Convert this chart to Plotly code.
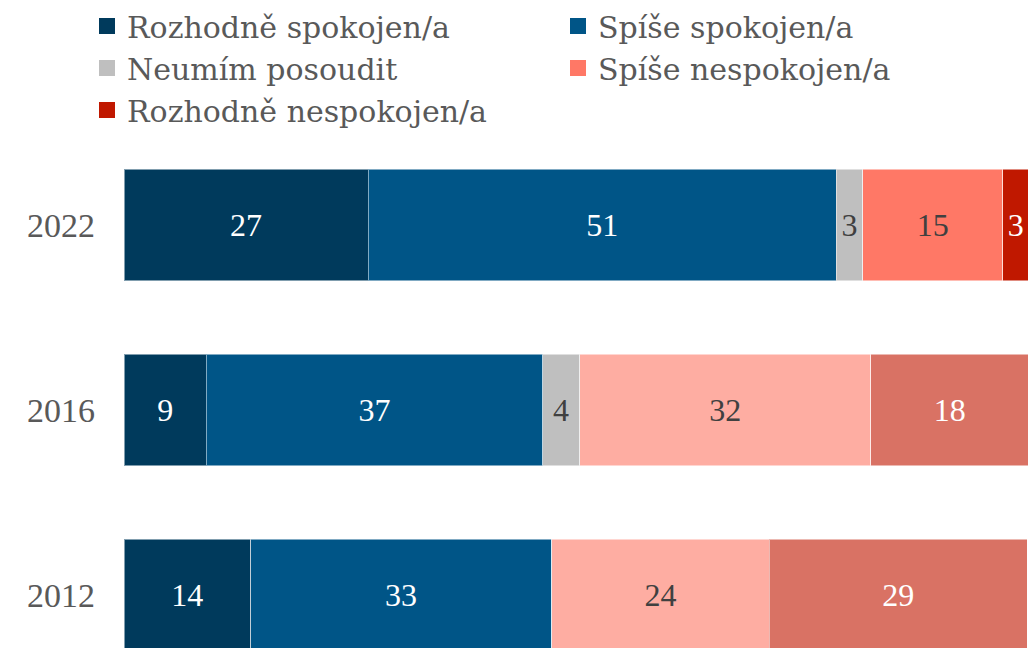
import plotly.graph_objects as go

years = ["2022", "2016", "2012"]
categories = ["Rozhodně spokojen/a", "Spíše spokojen/a", "Neumím posoudit",
              "Spíše nespokojen/a", "Rozhodně nespokojen/a"]

# segment shares and the printed labels
rozhodne_spokojen = [27.0, 9.1, 14.0]
spise_spokojen = [51.8, 37.2, 33.3]
neumim = [2.9, 4.1, 0.0]
spise_nespokojen = [15.5, 32.2, 24.1]
rozhodne_nespokojen = [2.9, 17.5, 28.5]

labels_rs = ["27", "9", "14"]
labels_ss = ["51", "37", "33"]
labels_nn = ["3", "4", ""]
labels_sn = ["15", "32", "24"]
labels_rn = ["3", "18", "29"]

values = [rozhodne_spokojen, spise_spokojen, neumim, spise_nespokojen, rozhodne_nespokojen]
labels = [labels_rs, labels_ss, labels_nn, labels_sn, labels_rn]

colors = [
    ["#003A5C", "#003A5C", "#003A5C"],
    ["#005587", "#005587", "#005587"],
    ["#BFBFBF", "#BFBFBF", "#BFBFBF"],
    ["#FF7866", "#FEADA2", "#FEADA2"],
    ["#C01800", "#D97264", "#D97264"],
]
text_colors = [
    ["white"] * 3,
    ["white"] * 3,
    ["#404040"] * 3,
    ["#404040"] * 3,
    ["white"] * 3,
]
legend_colors = ["#003A5C", "#005587", "#BFBFBF", "#FF7866", "#C01800"]
legend_ids = ["legend", "legend2", "legend", "legend2", "legend"]

TEXT_FONT = "DejaVu Serif"
NUM_FONT = "Liberation Serif"
fig = go.Figure()
for i, name in enumerate(categories):
    fig.add_trace(go.Bar(
        y=years, x=values[i], orientation="h", name=name,
        marker=dict(color=colors[i], line=dict(color="rgba(255,255,255,0.5)", width=1)),
        text=labels[i], textposition="inside", insidetextanchor="middle",
        constraintext="none",
        textfont=dict(family=NUM_FONT, size=32, color=text_colors[i]),
        showlegend=False, hoverinfo="skip",
    ))
for i, name in enumerate(categories):
    fig.add_trace(go.Scatter(
        x=[None], y=[None], mode="markers", name=name,
        marker=dict(symbol="square", size=16, color=legend_colors[i]),
        showlegend=True, legend=legend_ids[i],
    ))

legend_common = dict(
    orientation="v", traceorder="normal",
    xref="container", yref="container",
    xanchor="left", yanchor="top", y=1.014,
    bgcolor="rgba(0,0,0,0)",
    font=dict(family=TEXT_FONT, size=30, color="#595959"),
    itemclick=False, tracegroupgap=0,
)

fig.update_layout(
    barmode="stack",
    bargap=0.395,
    width=1028, height=648,
    margin=dict(l=124, r=0, t=140, b=0, autoexpand=False),
    paper_bgcolor="white", plot_bgcolor="white",
    font=dict(family=TEXT_FONT, color="#595959"),
    legend=dict(legend_common, x=87 / 1028),
    legend2=dict(legend_common, x=558 / 1028),
    xaxis=dict(visible=False, range=[0, 100], fixedrange=True),
    yaxis=dict(
        type="category", categoryorder="array", categoryarray=["2012", "2016", "2022"],
        range=[-0.2865, 2.4595], showgrid=False, showline=False, zeroline=False,
        ticks="", ticklabelstandoff=28,
        tickfont=dict(family=NUM_FONT, size=34, color="#595959"),
    ),
)

fig.write_html("out.html", config={"displayModeBar": False},
               post_script="document.body.style.margin='0';document.body.style.overflow='hidden';")
